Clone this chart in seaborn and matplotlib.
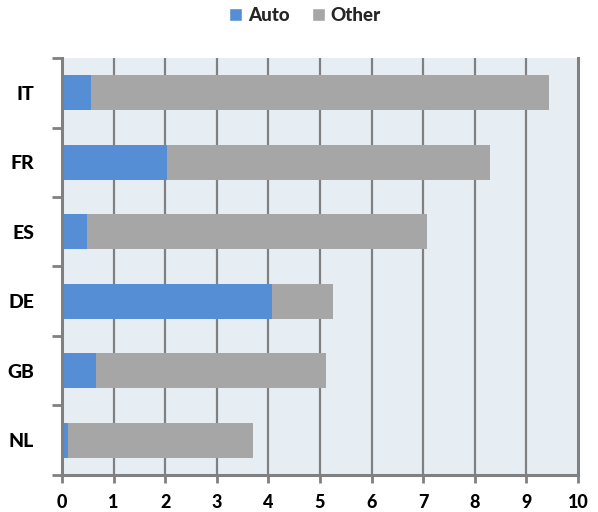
import numpy as np
import pandas as pd
import matplotlib
matplotlib.use("Agg")
import matplotlib.pyplot as plt
import seaborn as sns
from matplotlib.patches import Patch
from matplotlib.ticker import FixedLocator

# values
countries = ["IT", "FR", "ES", "DE", "GB", "NL"]
auto = [0.56, 2.04, 0.49, 4.07, 0.66, 0.12]
other = [8.87, 6.26, 6.58, 1.18, 4.45, 3.58]

df = pd.DataFrame({"country": countries, "Auto": auto, "Other": other})
df["total"] = df["Auto"] + df["Other"]

blue = "#558ED5"
gray = "#A6A6A6"
axis_gray = "#808080"

sns.set_theme(style="white")
plt.rcParams["font.family"] = ["Lato", "DejaVu Sans"]

fig = plt.figure(figsize=(5.98, 5.12), dpi=100)
ax = fig.add_axes([0.1037, 0.0723, 0.8629, 0.8144])
ax.set_facecolor("#E6EEF4")

# stacked bars: totals in gray, auto share in blue on top
sns.barplot(data=df, x="total", y="country", color=gray, width=0.5,
            saturation=1, orient="h", ax=ax, zorder=3, linewidth=0)
sns.barplot(data=df, x="Auto", y="country", color=blue, width=0.5,
            saturation=1, orient="h", ax=ax, zorder=4, linewidth=0)

ax.set_xlim(0, 10)
ax.set_ylim(len(countries) - 0.5, -0.5)
ax.set_xticks(range(0, 11))
ax.set_xlabel("")
ax.set_ylabel("")

# vertical grid
for x in range(1, 10):
    ax.axvline(x, color=axis_gray, lw=1.6, zorder=1)

ax.spines["top"].set_visible(False)
for side in ["left", "bottom", "right"]:
    ax.spines[side].set_color(axis_gray)
    ax.spines[side].set_linewidth(2.2)
    ax.spines[side].set_zorder(5)

ax.tick_params(axis="x", which="major", direction="out", length=6, width=2,
               color=axis_gray, labelsize=13, pad=8, bottom=True)
ax.tick_params(axis="y", which="major", length=0, labelsize=14, pad=20)
ax.yaxis.set_minor_locator(FixedLocator(np.arange(-0.5, len(countries), 1.0)))
ax.tick_params(axis="y", which="minor", direction="out", length=7, width=2,
               color=axis_gray, left=True)
for lbl in ax.get_xticklabels() + ax.get_yticklabels():
    lbl.set_fontweight("black")
    lbl.set_color("black")

handles = [Patch(facecolor=blue, label="Auto"), Patch(facecolor=gray, label="Other")]
fig.legend(handles=handles, loc="center", bbox_to_anchor=(0.51, 0.97), ncol=2,
           frameon=False, prop={"weight": "black", "size": 13.5},
           handlelength=0.7, handleheight=0.7, handletextpad=0.3, columnspacing=1.2)

fig.savefig("out.png", dpi=100)
